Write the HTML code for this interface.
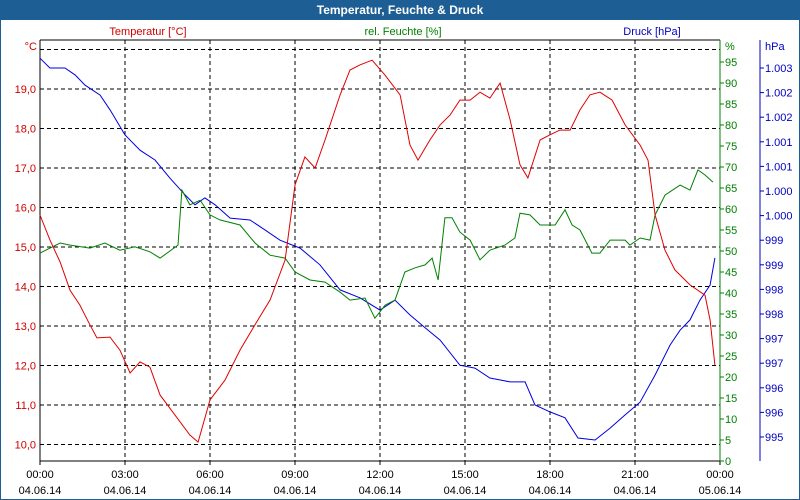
<!DOCTYPE html>
<html><head><meta charset="utf-8"><style>
html,body{margin:0;padding:0;background:#fff}
svg{display:block;font-family:"Liberation Sans",sans-serif;font-size:11px}
</style></head><body>
<svg id="c" width="800" height="500">
<rect x="0" y="0" width="800" height="500" fill="#fff" stroke="#1d5e95" stroke-width="2"/>
<rect x="0" y="0" width="800" height="20" fill="#1d5e95"/>
<text x="400" y="14" text-anchor="middle" fill="#fff" font-weight="bold" font-size="12">Temperatur, Feuchte &amp; Druck</text>
<text x="148" y="35" text-anchor="middle" fill="#d00000">Temperatur [°C]</text>
<text x="403" y="35" text-anchor="middle" fill="#008000">rel. Feuchte [%]</text>
<text x="652" y="35" text-anchor="middle" fill="#0000c0">Druck [hPa]</text>
<text x="37" y="50" text-anchor="end" fill="#d00000">°C</text>
<text x="725" y="50" fill="#008000">%</text>
<text x="765" y="50" fill="#0000c0">hPa</text>
<g id="grid"></g><g id="axes"></g><g id="series"></g>
</svg>
<script>
const tempTicks=[10,11,12,13,14,15,16,17,18,19,20];
const humTicks=[0,5,10,15,20,25,30,35,40,45,50,55,60,65,70,75,80,85,90,95];
const presTicks=[995,995.5,996,996.5,997,997.5,998,998.5,999,999.5,1000,1000.5,1001,1001.5,1002,1002.5];
const presLabels=["995","996","996","997","997","998","998","999","999","1.000","1.000","1.001","1.001","1.002","1.002","1.003"];
const timeTicks=[0,3,6,9,12,15,18,21,24];
const timeLabels=["00:00","03:00","06:00","09:00","12:00","15:00","18:00","21:00","00:00"];
const dateLabels=["04.06.14","04.06.14","04.06.14","04.06.14","04.06.14","04.06.14","04.06.14","04.06.14","05.06.14"];
const tempHours=[0,0.35,0.71,1.06,1.41,1.76,2.01,2.47,2.82,3.18,3.53,3.88,4.24,4.76,5.29,5.58,6.0,6.53,7.06,7.59,8.12,8.65,9.0,9.35,9.71,10.06,10.59,10.94,11.29,11.72,12.18,12.71,13.06,13.34,13.76,14.12,14.47,14.82,15.18,15.53,15.88,16.24,16.59,16.94,17.22,17.65,18.0,18.35,18.71,19.06,19.41,19.76,20.19,20.65,21.18,21.46,21.71,22.06,22.41,22.94,23.47,23.65,23.82];
const tempValues=[15.81,15.18,14.62,13.91,13.53,13.03,12.70,12.72,12.39,11.81,12.09,11.96,11.25,10.75,10.24,10.06,11.13,11.63,12.39,13.03,13.66,14.67,16.57,17.28,17.0,17.71,18.85,19.48,19.61,19.73,19.35,18.85,17.58,17.2,17.71,18.09,18.34,18.72,18.72,18.92,18.77,19.15,18.22,17.08,16.75,17.71,17.84,17.96,17.96,18.47,18.85,18.92,18.72,18.09,17.58,17.2,15.81,14.92,14.42,14.04,13.78,13.15,12.01];
const humHours=[0,0.71,1.06,1.76,2.29,2.82,3.35,3.88,4.24,4.87,5.01,5.29,5.65,6.0,6.35,7.06,7.59,8.12,8.65,9.0,9.53,10.06,10.59,10.94,11.47,11.82,12.18,12.53,12.88,13.24,13.59,13.84,14.05,14.29,14.54,14.82,15.18,15.53,15.88,16.41,16.76,16.94,17.29,17.65,18.18,18.53,18.78,19.06,19.48,19.76,20.12,20.65,20.82,21.18,21.53,21.71,22.06,22.59,22.94,23.22,23.47,23.75];
const humValues=[49.5,51.9,51.4,50.7,51.9,50.2,51.0,49.8,48.3,51.4,64.5,61.0,62.1,58.6,57.4,56.2,51.9,49.0,48.3,45.0,43.1,42.6,40.2,38.3,38.8,34.0,37.1,38.3,45.0,46.0,46.7,48.3,43.1,57.9,57.9,54.5,52.6,47.9,50.2,51.4,53.1,59.0,58.6,56.2,56.2,59.8,56.2,55.0,49.5,49.5,52.6,52.6,51.4,53.1,52.6,58.6,63.3,65.7,64.5,69.3,68.1,66.4];
const presHours=[0,0.35,0.88,1.24,1.59,2.12,2.47,3.0,3.53,4.06,4.59,5.12,5.47,5.82,6.18,6.71,7.41,7.94,8.47,9.18,9.88,10.59,11.29,12.0,12.53,13.06,13.59,14.12,14.82,15.35,15.88,16.59,17.12,17.47,18.0,18.53,18.99,19.59,20.12,20.65,21.18,21.71,22.24,22.59,22.94,23.29,23.65,23.82];
const presValues=[1002.70,1002.50,1002.50,1002.36,1002.15,1001.95,1001.65,1001.14,1000.83,1000.63,1000.26,999.92,999.72,999.86,999.72,999.45,999.41,999.21,999.00,998.84,998.50,997.99,997.83,997.58,997.78,997.48,997.22,996.97,996.46,996.40,996.20,996.12,996.12,995.65,995.51,995.39,994.98,994.94,995.18,995.45,995.71,996.26,996.87,997.17,997.38,997.78,998.09,998.64];

const L=40,R=720,T=40,B=461;
const xS=h=>L+h*(R-L)/24;
const yT=t=>89+(19-t)*39.5;
const yH=h=>461-h*4.2;
const yP=p=>437-(p-995)*49.2;
const NS="http://www.w3.org/2000/svg";
function mk(tag,parent,attrs){const e=document.createElementNS(NS,tag);for(const k in attrs)e.setAttribute(k,attrs[k]);document.getElementById(parent).appendChild(e);return e;}

// grid
tempTicks.forEach(t=>{const y=yT(t);
  const g=mk('line','grid',{x1:L,x2:R,y1:y,y2:y,stroke:'#000','stroke-dasharray':'4,3'});
  
  
  if(t<20){const tx=mk('text','axes',{x:36,y:y+4,'text-anchor':'end',fill:'#d00000'});tx.textContent=t.toFixed(1).replace('.',',');
  
  }
});
timeTicks.forEach((h,i)=>{const x=xS(h);
  if(i>0&&i<timeTicks.length-1){const g=mk('line','grid',{x1:x,x2:x,y1:T,y2:B,stroke:'#000','stroke-dasharray':'4,3'});
  
  }
  const tk=mk('line','axes',{x1:x,x2:x,y1:B,y2:B+4,stroke:'#000'});
  
  
  const a=mk('text','axes',{x:x,y:478,'text-anchor':'middle',fill:'#000'});a.textContent=timeLabels[i];
  
  
  const b=mk('text','axes',{x:x,y:494,'text-anchor':'middle',fill:'#000'});b.textContent=dateLabels[i];
  
  
});
humTicks.forEach(h=>{const y=yH(h);
  const tk=mk('line','axes',{x1:R,x2:R+4,y1:y,y2:y,stroke:'#008000'});
  
  
  const tx=mk('text','axes',{x:725,y:y+4,fill:'#008000'});tx.textContent=h;
  
  
});
presTicks.forEach((p,i)=>{const y=yP(p);
  const tk=mk('line','axes',{x1:760,x2:764,y1:y,y2:y,stroke:'#0000c0'});
  
  
  const tx=mk('text','axes',{x:765,y:y+4,fill:'#0000c0'});tx.textContent=presLabels[i];
  
  
});
const ax=[[L,T,R,T,'#000','plot-top-border'],[L,T,L,B,'#000','y-axis-temperature'],[L,B,R,B,'#000','x-axis'],[R,T,R,B,'#008000','y-axis-humidity'],[760,T,760,B,'#0000c0','y-axis-pressure']];
ax.forEach(a=>{const e=mk('line','axes',{x1:a[0],y1:a[1],x2:a[2],y2:a[3],stroke:a[4]});
  
  });

function line(hours,vals,yf,color,name){
  const n=Math.min(hours.length,vals.length);let d='';
  for(let i=0;i<n;i++)d+=(i?'L':'M')+xS(hours[i]).toFixed(1)+','+yf(vals[i]).toFixed(1);
  const p=mk('path','series',{d:d,fill:'none',stroke:color,'stroke-width':1});
  
  
}
line(presHours,presValues,yP,'#0000e0','pressure-line');
line(humHours,humValues,yH,'#008000','humidity-line');
line(tempHours,tempValues,yT,'#e00000','temperature-line');
</script>
</body></html>
